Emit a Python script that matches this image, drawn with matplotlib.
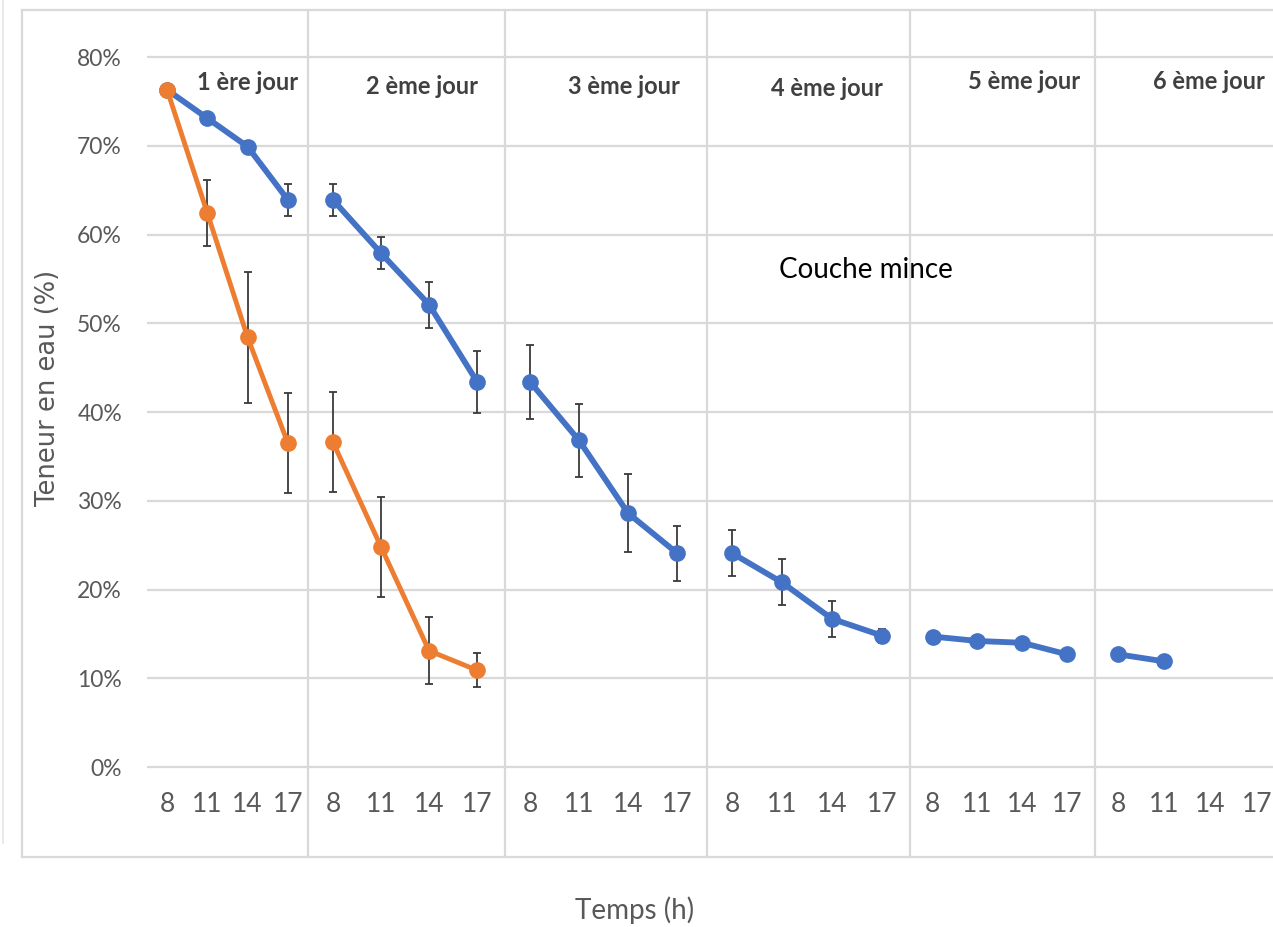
import matplotlib
matplotlib.use("Agg")
import matplotlib.pyplot as plt
from matplotlib.lines import Line2D
import numpy as np

# ---------------- data ----------------
days = ["1 ère jour", "2 ème jour", "3 ème jour", "4 ème jour", "5 ème jour", "6 ème jour"]
hours = ["8", "11", "14", "17"]
y_ticks = [0, 10, 20, 30, 40, 50, 60, 70, 80]

# blue series (couche mince) per day, % water content
blue_d1 = [76.3, 73.1, 69.9, 63.9]
blue_d2 = [63.9, 57.9, 52.1, 43.4]
blue_d3 = [43.4, 36.8, 28.6, 24.1]
blue_d4 = [24.1, 20.8, 16.7, 14.8]
blue_d5 = [14.7, 14.2, 14.0, 12.7]
blue_d6 = [12.7, 11.9]
blue_err_d1 = [0.0, 0.0, 0.6, 1.8]
blue_err_d2 = [1.8, 1.8, 2.6, 3.5]
blue_err_d3 = [4.2, 4.1, 4.4, 3.1]
blue_err_d4 = [2.6, 2.6, 2.0, 0.8]
blue_err_d5 = [0.0, 0.0, 0.0, 0.0]
blue_err_d6 = [0.0, 0.0]

# orange series
orange_d1 = [76.3, 62.4, 48.4, 36.5]
orange_d2 = [36.6, 24.8, 13.1, 10.9]
orange_err_d1 = [0.0, 3.7, 7.4, 5.6]
orange_err_d2 = [5.6, 5.6, 3.8, 1.9]

blue_vals = [blue_d1, blue_d2, blue_d3, blue_d4, blue_d5, blue_d6]
blue_errs = [blue_err_d1, blue_err_d2, blue_err_d3, blue_err_d4, blue_err_d5, blue_err_d6]
orange_vals = [orange_d1, orange_d2, None, None, None, None]
orange_errs = [orange_err_d1, orange_err_d2, None, None, None, None]

# ---------------- layout ----------------
W, H = 1273, 927
panel_edges = [147, 308, 505, 707, 910, 1095, 1273]
xlims = [(-0.5, 3.5), (-0.52, 3.58), (-0.51, 3.61), (-0.5, 3.56), (-0.51, 3.63), (-0.5, 3.35)]
ax_top, ax_bot = 10, 857
ylim = (-10.14, 85.3)
label_pos = [(2.01, 77.1), (1.85, 76.7), (1.92, 76.7), (1.9, 76.5), (2.04, 77.2), (1.96, 77.2)]

BLUE = "#4472C4"
ORANGE = "#ED7D31"
GRID = "#D9D9D9"
TXT = "#595959"
FONT = ["Lato", "DejaVu Sans"]

fig = plt.figure(figsize=(W / 100, H / 100), dpi=100)
fig.patch.set_facecolor("white")

axes = []
for i in range(6):
    x0, x1 = panel_edges[i], panel_edges[i + 1]
    ax = fig.add_axes([x0 / W, 1 - ax_bot / H, (x1 - x0) / W, (ax_bot - ax_top) / H])
    ax.set_xlim(*xlims[i])
    ax.set_ylim(*ylim)
    for s in ["top", "bottom", "right", "left"]:
        ax.spines[s].set_visible(False)
    if i > 0:
        ax.spines["left"].set_visible(True)
        ax.spines["left"].set_color(GRID)
        ax.spines["left"].set_linewidth(1.6)
    ax.set_yticks(y_ticks)
    ax.yaxis.grid(True, color=GRID, linewidth=1.6)
    ax.set_axisbelow(True)
    if i == 0:
        ax.set_yticklabels([f"{t}%" for t in y_ticks], fontsize=16.5, color=TXT, family=FONT)
        ax.tick_params(axis="y", length=0, pad=18)
    else:
        ax.tick_params(axis="y", length=0, labelleft=False)
    ax.set_xticks(range(4))
    ax.set_xticklabels(hours, fontsize=19, color=TXT, family=FONT)
    ax.tick_params(axis="x", length=0, pad=-47)

    xs = np.arange(len(blue_vals[i]))
    ax.errorbar(xs, blue_vals[i], yerr=blue_errs[i], fmt="none", ecolor="#3a3a3a",
                elinewidth=1.3, capsize=3, capthick=1.3, zorder=2.5)
    ax.plot(xs, blue_vals[i], color=BLUE, lw=4.2, marker="o", ms=11, zorder=3)
    if orange_vals[i] is not None:
        xo = np.arange(len(orange_vals[i]))
        ax.errorbar(xo, orange_vals[i], yerr=orange_errs[i], fmt="none", ecolor="#3a3a3a",
                    elinewidth=1.3, capsize=3, capthick=1.3, zorder=2.6)
        ax.plot(xo, orange_vals[i], color=ORANGE, lw=3.5, marker="o", ms=11, zorder=4)
    lx, ly = label_pos[i]
    ax.text(lx, ly, days[i], ha="center", va="center", fontsize=17, fontweight="bold",
            color="#404040", family=FONT, clip_on=False)
    axes.append(ax)

# outer chart frame
def fx(x):
    return x / W

def fy(y):
    return 1 - y / H

frame_kw = dict(color=GRID, lw=1.6, transform=fig.transFigure)
fig.add_artist(Line2D([fx(22), fx(22)], [fy(10), fy(857)], **frame_kw))
fig.add_artist(Line2D([fx(22), 1], [fy(10), fy(10)], **frame_kw))
fig.add_artist(Line2D([fx(22), 1], [fy(857), fy(857)], **frame_kw))
fig.add_artist(Line2D([fx(3), fx(3)], [1, fy(843)], color="#E6E6E6", lw=1.2,
                      transform=fig.transFigure))

fig.text(fx(48), fy(388), "Teneur en eau (%)", rotation=90, ha="center", va="center",
         fontsize=18.5, color=TXT, family="DejaVu Sans")
fig.text(fx(635), fy(910), "Temps (h)", ha="center", va="center", fontsize=20,
         color=TXT, family=FONT)
fig.text(fx(779), fy(270), "Couche mince", ha="left", va="center", fontsize=20,
         color="black", family=FONT)

fig.savefig("out.png", dpi=100, facecolor="white")
